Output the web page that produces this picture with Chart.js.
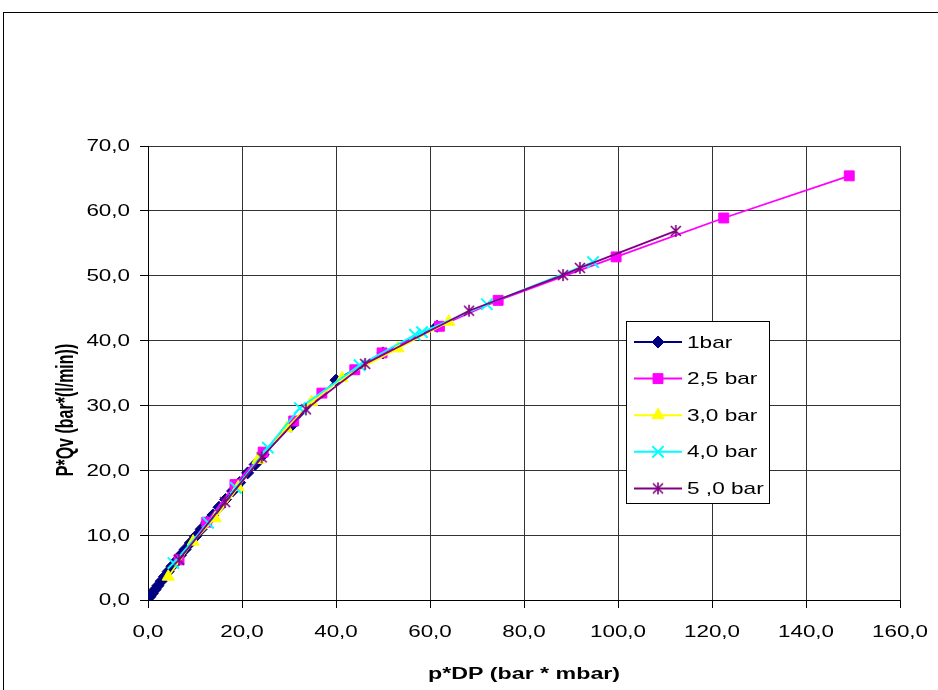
<!DOCTYPE html>
<html>
<head>
<meta charset="utf-8">
<script src="https://cdn.jsdelivr.net/npm/chart.js@4/dist/chart.umd.min.js"></script>
<style>
  body { margin: 0; background: #fff; }
  canvas { display: block; }
</style>
</head>
<body>
<canvas id="myChart" width="938" height="690"></canvas>
<script>
// values (x = p*DP, y = P*Qv)
var seriesNames = ['1bar', '2,5 bar', '3,0 bar', '4,0 bar', '5 ,0 bar'];

var bar1X = [0.4, 0.9, 1.5, 2.1, 2.8, 3.5, 4.3, 5.1, 6.0, 6.9, 7.9, 9.0, 10.1, 11.3, 12.5, 13.8, 15.1, 16.5, 18.0, 19.5, 21.2, 22.8, 24.5, 30.4, 40.0, 50.0, 61.5];
var bar1Y = [0.5, 1.0, 1.6, 2.2, 2.9, 3.6, 4.4, 5.2, 6.0, 6.9, 7.8, 8.8, 9.8, 10.9, 12.0, 13.1, 14.3, 15.5, 16.8, 18.1, 19.6, 20.9, 22.4, 26.8, 33.9, 38.1, 42.2];

var bar25X = [6.6, 12.5, 18.5, 24.5, 31.0, 37.0, 44.0, 49.8, 62.0, 74.5, 99.6, 122.5, 149.2];
var bar25Y = [6.2, 12.0, 17.8, 22.8, 27.6, 31.9, 35.5, 38.1, 42.2, 46.2, 52.9, 58.9, 65.4];

var bar3X = [4.3, 9.6, 14.3, 19.2, 23.4, 29.5, 34.8, 41.3, 53.2, 64.0];
var bar3Y = [3.6, 9.0, 12.6, 17.4, 21.6, 26.5, 30.5, 34.2, 38.8, 42.9];

var bar4X = [5.4, 12.8, 18.7, 25.5, 32.3, 45.0, 56.8, 58.3, 72.1, 94.7];
var bar4Y = [5.7, 11.9, 17.3, 23.5, 29.6, 36.2, 40.9, 41.3, 45.6, 52.1];

var bar5X = [6.6, 16.4, 24.2, 33.6, 46.2, 68.3, 88.3, 91.9, 112.3];
var bar5Y = [6.2, 15.1, 22.0, 29.4, 36.4, 44.6, 50.1, 51.2, 56.9];

var xTitle = 'p*DP (bar * mbar)';
var yTitle = 'P*Qv (bar*(l/min))';

var FONT = '"Liberation Sans", Arial, sans-serif';
// the old excel picture has wide text, so text is drawn a bit stretched
var TICK_SX = 1.4;
var TITLE_SX = 1.45;
var LEG_SX = 1.33;

function pts(xs, ys) {
  var out = [];
  for (var i = 0; i < xs.length; i++) out.push({ x: xs[i], y: ys[i] });
  return out;
}

// excel style star marker: X with a vertical bar
function starImage(color) {
  var c = document.createElement('canvas');
  c.width = 14; c.height = 14;
  var g = c.getContext('2d');
  g.strokeStyle = color;
  g.lineWidth = 1.6;
  g.beginPath();
  g.moveTo(2, 2); g.lineTo(12, 12);
  g.moveTo(12, 2); g.lineTo(2, 12);
  g.moveTo(7, 1); g.lineTo(7, 13);
  g.stroke();
  return c;
}

function fmt(v) {
  return v.toFixed(1).replace('.', ',');
}

function wideText(ctx, text, x, y, sx, align) {
  ctx.save();
  ctx.translate(x, y);
  ctx.scale(sx, 1);
  ctx.textAlign = align;
  ctx.fillText(text, 0, 0);
  ctx.restore();
}

// frame round the whole chart, tick labels, axis titles and the boxed legend
var excelBits = {
  id: 'excelBits',
  beforeDraw: function (chart) {
    var ctx = chart.ctx;
    ctx.save();
    ctx.fillStyle = '#fff';
    ctx.fillRect(0, 0, chart.width, chart.height);
    ctx.strokeStyle = '#000';
    ctx.lineWidth = 1;
    ctx.strokeRect(3.5, 12.5, 1000, 1000);
    ctx.restore();
  },
  afterDraw: function (chart) {
    var ctx = chart.ctx;
    var area = chart.chartArea;
    var sx = chart.scales.x, sy = chart.scales.y;

    ctx.save();
    ctx.fillStyle = '#000';
    ctx.textBaseline = 'middle';
    ctx.font = '16px ' + FONT;
    sx.ticks.forEach(function (t) {
      wideText(ctx, fmt(t.value), sx.getPixelForValue(t.value), 633, TICK_SX, 'center');
    });
    sy.ticks.forEach(function (t) {
      wideText(ctx, fmt(t.value), 130, sy.getPixelForValue(t.value) + 1, TICK_SX, 'right');
    });

    ctx.font = 'bold 16px ' + FONT;
    wideText(ctx, xTitle, (area.left + area.right) / 2, 675, TITLE_SX, 'center');
    // rotated title, glyphs widened sideways the same way
    ctx.translate(67, 410);
    ctx.scale(TITLE_SX, 1);
    ctx.rotate(-Math.PI / 2);
    ctx.textAlign = 'center';
    ctx.fillText(yTitle, 0, 0);
    ctx.restore();

    // legend
    var bx = 626, by = 321, bw = 143, bh = 182;
    ctx.save();
    ctx.fillStyle = '#fff';
    ctx.fillRect(bx, by, bw, bh);
    ctx.strokeStyle = '#000';
    ctx.lineWidth = 1;
    ctx.strokeRect(bx + 0.5, by + 0.5, bw, bh);
    ctx.textBaseline = 'middle';
    chart.data.datasets.forEach(function (ds, i) {
      var y = by + 21 + i * 36.6;
      ctx.strokeStyle = ds.borderColor;
      ctx.lineWidth = 2;
      ctx.beginPath();
      ctx.moveTo(634, y);
      ctx.lineTo(682, y);
      ctx.stroke();
      ctx.fillStyle = ds.pointBackgroundColor;
      ctx.strokeStyle = ds.pointBorderColor;
      ctx.lineWidth = ds.pointBorderWidth;
      Chart.helpers.drawPoint(ctx, {
        pointStyle: ds.pointStyle,
        radius: ds.pointRadius,
        rotation: 0,
        borderWidth: ds.pointBorderWidth
      }, 658, y);
      ctx.fillStyle = '#000';
      ctx.font = '17px ' + FONT;
      wideText(ctx, ds.label, 687, y + 1, LEG_SX, 'left');
    });
    ctx.restore();
  }
};

var colors = ['#000080', '#FF00FF', '#FFFF00', '#00FFFF', '#800080'];
var styles = ['rectRot', 'rect', 'triangle', 'crossRot', starImage('#800080')];
var radii = [6, 7, 7, 8, 7];
var xs = [bar1X, bar25X, bar3X, bar4X, bar5X];
var ys = [bar1Y, bar25Y, bar3Y, bar4Y, bar5Y];

var datasets = [];
for (var i = 0; i < 5; i++) {
  datasets.push({
    label: seriesNames[i],
    data: pts(xs[i], ys[i]),
    showLine: true,
    borderColor: colors[i],
    backgroundColor: colors[i],
    pointBackgroundColor: colors[i],
    pointBorderColor: colors[i],
    pointStyle: styles[i],
    pointRadius: radii[i],
    pointBorderWidth: i === 3 ? 2 : 1,
    borderWidth: 1.8,
    order: 5 - i   // later series on top, like excel
  });
}

var ctx = document.getElementById('myChart').getContext('2d');
var myChart = new Chart(ctx, {
  type: 'scatter',
  data: { datasets: datasets },
  plugins: [excelBits],
  options: {
    responsive: false,
    animation: false,
    layout: { padding: { left: 20, top: 146, right: 38, bottom: 0 } },
    plugins: {
      legend: { display: false },
      tooltip: { enabled: false }
    },
    scales: {
      x: {
        type: 'linear',
        min: 0, max: 160,
        afterFit: function (s) { s.height = 90; },
        ticks: { stepSize: 20, display: false },
        grid: { color: '#333', lineWidth: 1, tickLength: 8, tickColor: '#000' },
        border: { color: '#000', width: 1 }
      },
      y: {
        type: 'linear',
        min: 0, max: 70,
        afterFit: function (s) { s.width = 128; },
        ticks: { stepSize: 10, display: false },
        grid: { color: '#333', lineWidth: 1, tickLength: 8, tickColor: '#000' },
        border: { color: '#000', width: 1 }
      }
    }
  }
});
</script>
</body>
</html>
